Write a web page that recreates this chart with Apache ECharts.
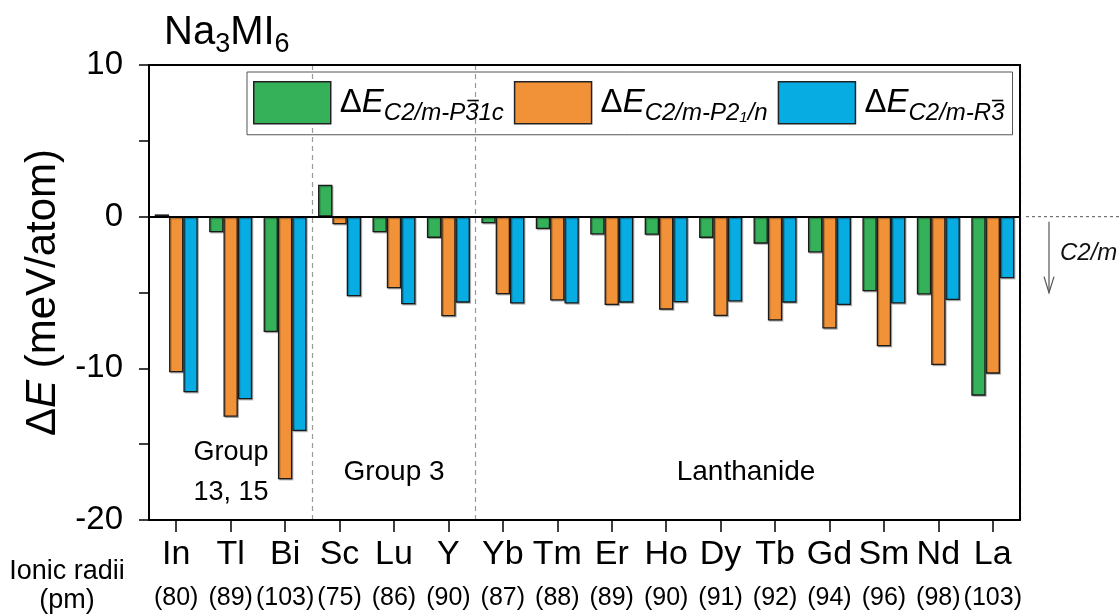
<!DOCTYPE html>
<html><head><meta charset="utf-8">
<script src="https://cdn.jsdelivr.net/npm/echarts@6/dist/echarts.min.js"></script>
<style>html,body{margin:0;padding:0;background:#fff}#c{width:1120px;height:616px}</style>
</head><body><div id="c"></div>
<script>
// ---- data ----
const categories = ['In','Tl','Bi','Sc','Lu','Y','Yb','Tm','Er','Ho','Dy','Tb','Gd','Sm','Nd','La'];
const radii = [80,89,103,75,86,90,87,88,89,90,91,92,94,96,98,103];
const dE_P31c = [0.15,-1.03,-7.6,2.11,-1.03,-1.4,-0.44,-0.81,-1.18,-1.2,-1.4,-1.78,-2.37,-4.92,-5.14,-11.8];
const dE_P21n = [-10.26,-13.2,-17.31,-0.5,-4.72,-6.57,-5.12,-5.53,-5.82,-6.13,-6.55,-6.85,-7.38,-8.55,-9.78,-10.35];
const dE_R3 = [-11.58,-12.04,-14.13,-5.25,-5.78,-5.67,-5.73,-5.73,-5.67,-5.65,-5.6,-5.67,-5.82,-5.73,-5.49,-4.06];
const seriesNames = ['P31c','P21n','R3'];
const yMin = -20, yMax = 10, yStep = 5;

const FFN = 'Liberation Sans';
const FF = FFN + ', Arial, sans-serif';
const colors = ['#35B159','#F19239','#07ADE2'];
const gridL = 149, gridR = 100, gridT = 65, gridB = 96;

const chart = echarts.init(document.getElementById('c'), null, {renderer:'canvas'});

// legend text layout constants
const LG = {left: 247, top: 72, padT: 9, padR: 8, padB: 9, padL: 6, iconW: 77, iconH: 42, gap: 10,
  big: 33, sub: 24, subsub: 15, lineH: 46, subLH: 24};
const legendRich = {
  dl: {fontSize: LG.big, fontFamily: FF, lineHeight: LG.lineH, verticalAlign: 'middle', padding:[0,0,0,4]},
  de: {fontSize: LG.big, fontFamily: FF, fontStyle: 'italic', lineHeight: LG.lineH, verticalAlign: 'middle'},
  s: {fontSize: LG.sub, fontFamily: FF, fontStyle: 'italic', lineHeight: LG.subLH, verticalAlign: 'bottom'},
  ss: {fontSize: LG.subsub, fontFamily: FF, fontStyle: 'italic', lineHeight: 12, verticalAlign: 'bottom'}
};
// token lists: [style, text]; entries flagged 'bar' get an overline
const legendTokens = {
  'P31c': [['dl','Δ'],['de','E'],['s','C2/m-P'],['s','3','bar'],['s','1c']],
  'P21n': [['dl','Δ'],['de','E'],['s','C2/m-P2'],['ss','1'],['s','/n']],
  'R3':   [['dl','Δ'],['de','E'],['s','C2/m-R'],['s','3','bar']]
};
const legendText = {};
Object.keys(legendTokens).forEach(k => {
  legendText[k] = legendTokens[k].map(t => '{' + t[0] + '|' + t[1] + '}').join('');
});

const dataSets = [dE_P31c, dE_P21n, dE_R3];
const series = seriesNames.map((n, k) => ({
  name: n,
  type: 'bar',
  data: dataSets[k],
  barGap: '0%',
  barCategoryGap: '21%',
  itemStyle: {color: colors[k], borderColor: '#1a1a1a', borderWidth: 1.3,
    shadowColor: 'rgba(0,0,0,0.25)', shadowOffsetX: 1.2, shadowOffsetY: 1.2, shadowBlur: 0},
  emphasis: {disabled: true},
  markLine: k === 0 ? {
    silent: true, symbol: ['none','none'], label: {show: false},
    lineStyle: {color: '#000', width: 2, type: 'solid'},
    data: [{yAxis: 0}]
  } : undefined
}));

chart.setOption({
  animation: false,
  backgroundColor: '#fff',
  textStyle: {fontFamily: FF},
  grid: {left: gridL, right: gridR, top: gridT, bottom: gridB, containLabel: false},
  legend: {
    left: LG.left, top: LG.top,
    padding: [LG.padT, LG.padR, LG.padB, LG.padL],
    borderColor: '#555', borderWidth: 1,
    icon: 'rect',
    itemWidth: LG.iconW, itemHeight: LG.iconH, itemGap: LG.gap,
    itemStyle: {borderColor: '#222', borderWidth: 1.5},
    textStyle: {color: '#000', rich: legendRich},
    formatter: n => legendText[n],
    selectedMode: false,
    data: seriesNames
  },
  xAxis: [{
    type: 'category', data: categories, position: 'bottom',
    axisLine: {onZero: false, lineStyle: {color: '#000', width: 2}},
    axisTick: {show: true, alignWithLabel: true, length: 12, lineStyle: {color: '#000', width: 1.5}},
    axisLabel: {
      interval: 0, margin: 12, color: '#000',
      formatter: (v, i) => '{e|' + v + '}\n{r|(' + radii[i] + ')}',
      rich: {
        e: {fontSize: 34, fontFamily: FF, lineHeight: 46, color: '#000'},
        r: {fontSize: 25, fontFamily: FF, lineHeight: 40, color: '#000'}
      }
    },
    splitLine: {show: true, interval: (i) => i === 3 || i === 6,
      lineStyle: {color: '#999', width: 1.2, type: [5, 4]}}
  }, {
    type: 'category', data: categories, position: 'top',
    axisLine: {onZero: false, lineStyle: {color: '#000', width: 2}},
    axisTick: {show: false}, axisLabel: {show: false}, splitLine: {show: false}
  }],
  yAxis: [{
    type: 'value', min: yMin, max: yMax, interval: yStep,
    axisLine: {show: true, onZero: false, lineStyle: {color: '#000', width: 2}},
    axisTick: {show: true, length: 10, lineStyle: {color: '#000', width: 1.5}},
    axisLabel: {fontSize: 33, color: '#000', fontFamily: FF, margin: 26,
      formatter: v => (v % 10 === 0 ? String(v) : '')},
    splitLine: {show: false},
    name: '{n|Δ}{i|E}{n| (meV/atom)}',
    nameLocation: 'middle', nameRotate: 90, nameGap: 80,
    nameTextStyle: {rich: {
      n: {fontSize: 42, fontFamily: FF, color: '#000'},
      i: {fontSize: 42, fontFamily: FF, fontStyle: 'italic', color: '#000'}
    }}
  }, {
    type: 'value', min: yMin, max: yMax, interval: yStep, position: 'right',
    axisLine: {show: true, onZero: false, lineStyle: {color: '#000', width: 2}},
    axisTick: {show: false}, axisLabel: {show: false}, splitLine: {show: false}
  }],
  series: series
});

// ---- overlines over the "3" in the legend (measured with canvas text metrics) ----
const mctx = document.createElement('canvas').getContext('2d');
function tokenWidth(style, txt) {
  const r = legendRich[style];
  mctx.font = (r.fontStyle === 'italic' ? 'italic ' : '') + r.fontSize + 'px ' + FF;
  const pad = r.padding ? (r.padding[1] + r.padding[3]) : 0;
  return mctx.measureText(txt).width + pad;
}
const overlines = [];
let cx = LG.left + LG.padL;
const itemMidY = LG.top + LG.padT + LG.iconH / 2;
const lineTop = itemMidY - LG.lineH / 2;
seriesNames.forEach(n => {
  let tx = cx + LG.iconW + 5;
  let total = 0;
  legendTokens[n].forEach(t => {
    const w = tokenWidth(t[0], t[1]);
    if (t[2] === 'bar') {
      const subMid = lineTop + LG.lineH - LG.subLH / 2;
      const yb = subMid - LG.sub * 0.52;
      overlines.push({type: 'line', z: 100,
        shape: {x1: tx + total + 3, y1: yb, x2: tx + total + w + 1, y2: yb},
        style: {stroke: '#000', lineWidth: 1.6}});
    }
    total += w;
  });
  cx = tx + total + LG.gap;
});

const zeroY = chart.convertToPixel({yAxisIndex: 0}, 0);
const rightX = 1120 - gridR;
chart.setOption({
  graphic: overlines.concat([
    {type: 'text', left: 164, top: 13, style: {
      text: '{m|Na}{s|3}{m|MI}{s|6}', fill: '#000',
      rich: {m: {fontSize: 40, fontFamily: FF, lineHeight: 50, verticalAlign: 'middle'},
             s: {fontSize: 27, fontFamily: FF, lineHeight: 30, verticalAlign: 'bottom'}}
    }},
    {type: 'line', shape: {x1: rightX + 6, y1: zeroY, x2: 1120, y2: zeroY},
      style: {stroke: '#555', lineWidth: 1, lineDash: [3, 3]}},
    {type: 'line', shape: {x1: 1049, y1: zeroY + 5, x2: 1049, y2: zeroY + 76},
      style: {stroke: '#555', lineWidth: 1.2}},
    {type: 'polyline', shape: {points: [[1044, zeroY + 60], [1049, zeroY + 76], [1054, zeroY + 60]]},
      style: {stroke: '#555', lineWidth: 1.2, fill: null}},
    {type: 'text', x: 1060, y: zeroY + 37, style: {text: 'C2/m', fontSize: 24, fontStyle: 'italic',
      fontFamily: FF, fill: '#111', verticalAlign: 'middle'}},
    {type: 'text', x: 231, y: 473, style: {text: 'Group\n13, 15', fontSize: 27, fontFamily: FF,
      lineHeight: 40, fill: '#000', align: 'center', verticalAlign: 'middle'}},
    {type: 'text', x: 394, y: 472, style: {text: 'Group 3', fontSize: 28, fontFamily: FF,
      fill: '#000', align: 'center', verticalAlign: 'middle'}},
    {type: 'text', x: 746, y: 472, style: {text: 'Lanthanide', fontSize: 28, fontFamily: FF,
      fill: '#000', align: 'center', verticalAlign: 'middle'}},
    {type: 'text', x: 67, y: 586, style: {text: 'Ionic radii\n(pm)', fontSize: 27, fontFamily: FF,
      lineHeight: 29, fill: '#000', align: 'center', verticalAlign: 'middle'}}
  ])
});
</script></body></html>
